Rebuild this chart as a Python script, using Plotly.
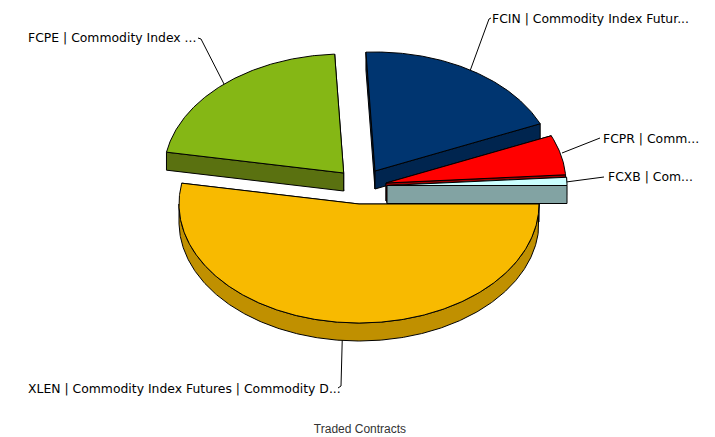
import numpy as np
import plotly.graph_objects as go

# data
symbols = ["FCXB", "FCPR", "FCIN", "FCPE", "XLEN"]
labels = [
    "FCXB | Com...",
    "FCPR | Comm...",
    "FCIN | Commodity Index Futur...",
    "FCPE | Commodity Index ...",
    "XLEN | Commodity Index Futures | Commodity D...",
]
values = [1.1, 5.4, 19.3, 21.4, 52.8]
chart_title = "Traded Contracts"

# styles / layout (pixel space)
top_colors = ["#CCFFFF", "#FF0000", "#003570", "#85B715", "#F8BA00"]
side_colors = ["#82A3A3", "#A00000", "#00254F", "#5A7110", "#C09000"]
centers = [(387, 185.5), (386, 183), (375, 171), (343.7, 173), (359, 204)]
RX, RY, DEPTH = 180, 119, 18
leaders = [
    [(566, 182), (604, 177)],
    [(562, 153), (600, 138)],
    [(470, 71), (489, 19), (491, 18)],
    [(224, 84), (201, 39), (198, 38)],
    [(342.7, 323), (341, 386), (338, 388)],
]
label_pos = [(608, 176), (603, 138), (492, 18), (28, 37), (28, 388)]
W, H = 715, 437

fracs = np.array(values) / sum(values)
edges = np.concatenate([[0], np.cumsum(fracs) * 360])


def arc(cx, cy, a, b, dy=0):
    t = np.radians(np.linspace(a, b, max(int(abs(b - a)) * 2, 3)))
    return cx + RX * np.cos(t), cy - RY * np.sin(t) + dy


fig = go.Figure()


def poly(xs, ys, fill):
    xs, ys = list(xs), list(ys)
    fig.add_trace(go.Scatter(
        x=xs + xs[:1], y=ys + ys[:1], mode="lines", fill="toself",
        fillcolor=fill, line=dict(color="#000000", width=1),
        hoverinfo="skip", showlegend=False,
    ))


# leader lines go underneath the slices
for pts in leaders:
    fig.add_trace(go.Scatter(
        x=[p[0] for p in pts], y=[p[1] for p in pts], mode="lines",
        line=dict(color="#000000", width=1), hoverinfo="skip", showlegend=False,
    ))

# painter's order: back slices first
for i in [3, 2, 1, 0, 4]:
    a, b = edges[i], edges[i + 1]
    cx, cy = centers[i]
    # radial cut faces, the one further back first
    for ang in sorted((a, b), key=lambda v: -np.sin(np.radians(v))):
        px, py = arc(cx, cy, ang, ang)
        poly([cx, px[0], px[0], cx], [cy, py[0], py[0] + DEPTH, cy + DEPTH], side_colors[i])
    # outer wall: only the front half of the ellipse is visible
    lo, hi = max(a, 180), min(b, 360)
    if hi > lo:
        x1, y1 = arc(cx, cy, lo, hi)
        x2, y2 = arc(cx, cy, hi, lo, DEPTH)
        poly(np.r_[x1, x2], np.r_[y1, y2], side_colors[i])
    # top face
    ax, ay = arc(cx, cy, a, b)
    poly(np.r_[cx, ax], np.r_[cy, ay], top_colors[i])

for text, (x, y) in zip(labels, label_pos):
    fig.add_annotation(
        x=x, y=y, text=text, showarrow=False, xanchor="left", yanchor="middle",
        xshift=-2, font=dict(family="DejaVu Sans", size=12.4, color="#000000"),
    )

fig.update_layout(
    width=W, height=H, margin=dict(l=0, r=0, t=0, b=0),
    paper_bgcolor="#FFFFFF", plot_bgcolor="#FFFFFF", showlegend=False,
    title=dict(
        text=chart_title, x=360 / W, xanchor="center", y=1 - 428.5 / H, yanchor="middle",
        font=dict(family="Liberation Sans", size=12, color="#333333"),
    ),
    xaxis=dict(range=[0, W], visible=False, fixedrange=True),
    yaxis=dict(range=[H, 0], visible=False, fixedrange=True),
)
fig.write_html(
    "out.html",
    config={"displayModeBar": False},
    post_script="document.body.style.margin='0';document.documentElement.style.overflow='hidden';",
)
